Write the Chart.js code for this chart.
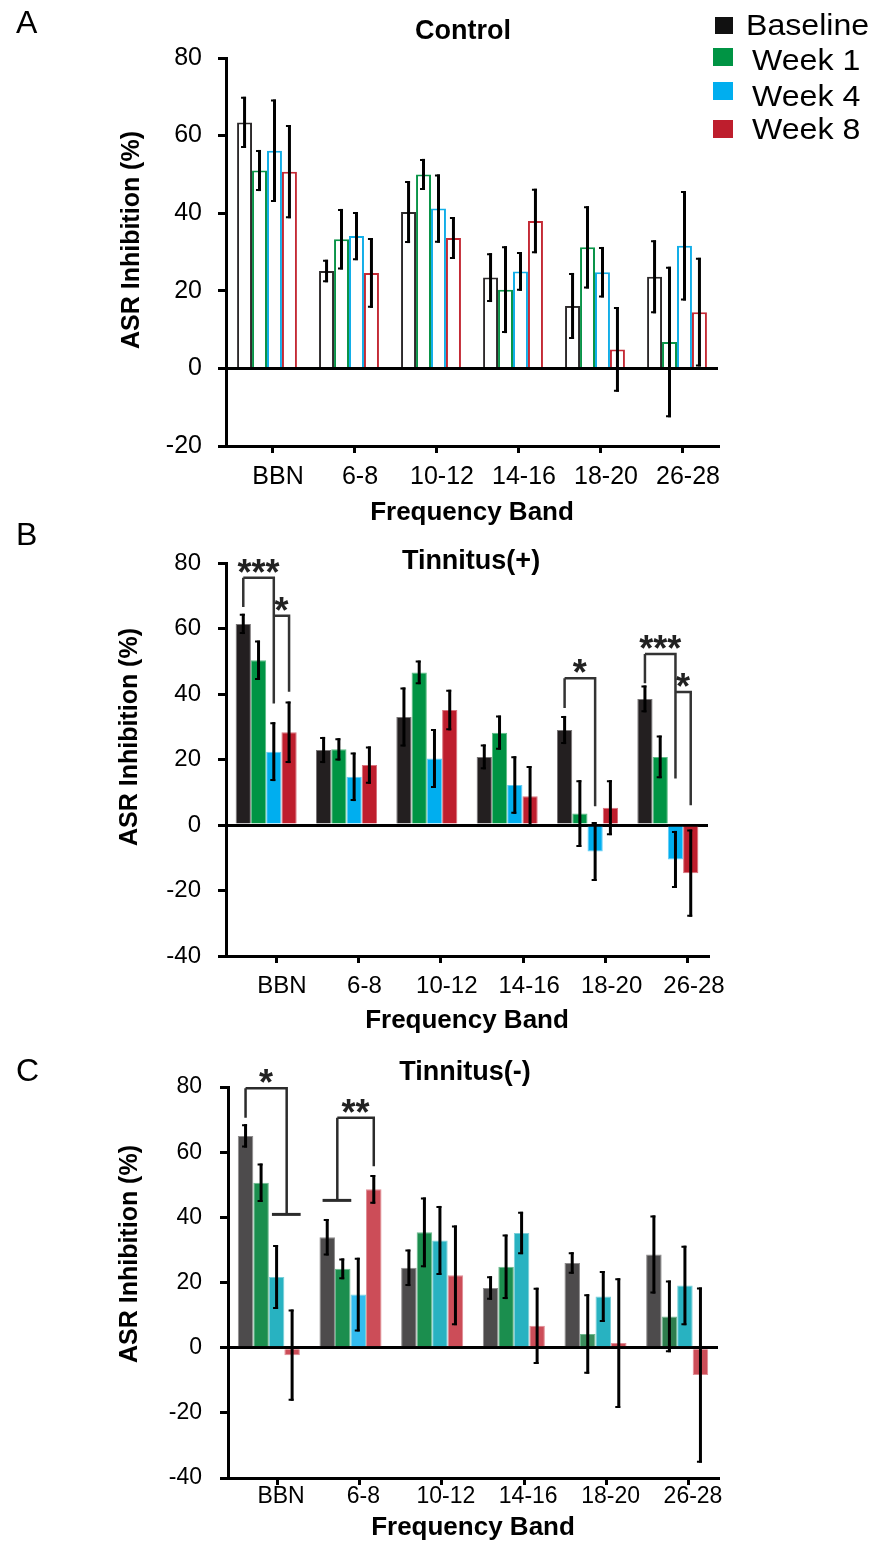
<!DOCTYPE html>
<html>
<head>
<meta charset="utf-8">
<script src="https://cdn.jsdelivr.net/npm/chart.js@4.4.0/dist/chart.umd.min.js"></script>
<style>
  body { margin: 0; background: #fff; font-family: "Liberation Sans", Arial, sans-serif; color: #000; }
  #page { position: relative; width: 875px; height: 1544px; overflow: hidden; }
  canvas { position: absolute; left: 0; }
  .t { position: absolute; line-height: 1; white-space: nowrap; }
  .letter { font-size: 32px; }
  .title { font-size: 27px; font-weight: bold; transform: translateX(-50%); }
  .ytitle { font-size: 25px; font-weight: bold; transform: translate(-50%, -50%) rotate(-90deg); }
  .leg { font-size: 30px; transform: scaleX(1.07); transform-origin: left center; }
  .sw { position: absolute; width: 20px; height: 18px; }
</style>
</head>
<body>
<div id="page">
  <canvas id="chartA" width="875" height="530" style="top:0px"></canvas>
  <canvas id="chartB" width="875" height="510" style="top:530px"></canvas>
  <canvas id="chartC" width="875" height="504" style="top:1040px"></canvas>

  <div class="t letter" style="left:16px;top:6px">A</div>
  <div class="t letter" style="left:16px;top:518px">B</div>
  <div class="t letter" style="left:16px;top:1054px">C</div>

  <div class="t title" style="left:463px;top:17px">Control</div>
  <div class="t title" style="left:471px;top:547px">Tinnitus(+)</div>
  <div class="t title" style="left:465px;top:1058px">Tinnitus(-)</div>

  <div class="t ytitle" style="left:130px;top:240px">ASR Inhibition (%)</div>
  <div class="t ytitle" style="left:128px;top:737px">ASR Inhibition (%)</div>
  <div class="t ytitle" style="left:128px;top:1254px">ASR Inhibition (%)</div>

  <div class="sw" style="left:715px;top:17px;width:18px;height:17px;background:#111"></div>
  <div class="sw" style="left:713px;top:48px;background:#009444"></div>
  <div class="sw" style="left:713px;top:82px;background:#00aeef"></div>
  <div class="sw" style="left:713px;top:120px;background:#be1e2d"></div>
  <div class="t leg" style="left:746px;top:10px">Baseline</div>
  <div class="t leg" style="left:752px;top:45px">Week 1</div>
  <div class="t leg" style="left:752px;top:81px">Week 4</div>
  <div class="t leg" style="left:752px;top:114px">Week 8</div>
</div>

<script>
const bands = ['BBN', '6-8', '10-12', '14-16', '18-20', '26-28'];
const seriesNames = ['Baseline', 'Week 1', 'Week 4', 'Week 8'];

// A - Control
const controlBaseline = [63.4, 25.1, 40.3, 23.4, 16.1, 23.6];
const controlWeek1 = [51.0, 33.3, 50.0, 20.3, 31.2, 6.8];
const controlWeek4 = [56.1, 34.1, 41.2, 25.0, 24.8, 31.6];
const controlWeek8 = [50.7, 24.6, 33.6, 38.0, 4.9, 14.5];
const controlBaselineErr = [6.6, 2.9, 8.0, 6.3, 8.5, 9.4];
const controlWeek1Err = [5.3, 7.8, 4.0, 11.2, 10.6, 19.4];
const controlWeek4Err = [13.2, 6.2, 8.8, 5.0, 6.5, 14.1];
const controlWeek8Err = [12.0, 9.0, 5.4, 8.3, 10.9, 14.0];

// B - Tinnitus(+)
const plusBaseline = [61.4, 22.9, 33.0, 20.8, 29.0, 38.5];
const plusWeek1 = [50.3, 23.1, 46.6, 28.2, 3.5, 20.8];
const plusWeek4 = [22.4, 14.7, 20.3, 12.2, -8.1, -10.5];
const plusWeek8 = [28.3, 18.3, 35.1, 8.8, 5.3, -14.7];
const plusBaselineErr = [3.1, 4.0, 9.0, 3.8, 4.3, 4.1];
const plusWeek1Err = [6.0, 3.4, 3.6, 5.2, 10.2, 6.5];
const plusWeek4Err = [9.0, 7.4, 9.0, 8.8, 9.0, 8.7];
const plusWeek8Err = [9.4, 5.7, 6.2, 9.2, 8.4, 13.3];

// C - Tinnitus(-)
const minusBaseline = [65.0, 33.9, 24.5, 18.3, 26.0, 28.6];
const minusWeek1 = [50.6, 24.2, 35.4, 24.8, 4.2, 9.6];
const minusWeek4 = [21.7, 16.3, 32.9, 35.2, 15.7, 19.1];
const minusWeek8 = [-2.3, 48.6, 22.2, 6.7, 1.4, -8.4];
const minusBaselineErr = [3.6, 5.6, 5.6, 3.6, 3.3, 12.0];
const minusWeek1Err = [5.9, 3.2, 10.7, 9.9, 12.2, 11.0];
const minusWeek4Err = [9.8, 11.3, 10.6, 6.5, 7.8, 12.2];
const minusWeek8Err = [14.0, 4.4, 15.3, 11.7, 19.9, 26.9];

// significance brackets: [band, left bars, right bars, top, left leg end, right leg end, stars]
const plusBrackets = [
  [0, [0], [2], 75.5, 66.6, 37.1, '***'],
  [0, [2], [3], 63.9, null, 40.7, '*'],
  [4, [0], [2], 44.8, 35.7, 5.7, '*'],
  [5, [0], [2], 52.2, 43.3, 14.2, '***'],
  [5, [2], [3], 40.6, null, 6.0, '*']
];
const minusBrackets = [
  [0, [0], [2, 3], 79.6, 70.6, 40.9, '*'],
  [1, [0, 1], [3], 70.6, 45.2, 55.7, '**']
];

Chart.defaults.font.family = '"Liberation Sans", Arial, sans-serif';
Chart.defaults.color = '#000';

const errorBars = {
  id: 'errorBars',
  afterDatasetsDraw(chart) {
    const ctx = chart.ctx;
    const yScale = chart.scales.y;
    ctx.save();
    ctx.strokeStyle = '#000';
    chart.data.datasets.forEach((ds, di) => {
      chart.getDatasetMeta(di).data.forEach((bar, i) => {
        const v = ds.data[i], e = ds.errors[i];
        const top = yScale.getPixelForValue(v + e);
        const bot = yScale.getPixelForValue(v - e);
        const x = bar.x;
        ctx.lineWidth = 3;
        ctx.beginPath();
        ctx.moveTo(x, top);
        ctx.lineTo(x, bot);
        ctx.stroke();
        ctx.lineWidth = 2;
        ctx.beginPath();
        ctx.moveTo(x - 3.5, top + 1); ctx.lineTo(x + 1.5, top + 1);
        ctx.moveTo(x - 3.5, bot - 1); ctx.lineTo(x + 1.5, bot - 1);
        ctx.stroke();
      });
    });
    ctx.restore();
  }
};

function bracketPlugin(list, color) {
  return {
    id: 'brackets',
    afterDatasetsDraw(chart) {
      const ctx = chart.ctx;
      const yScale = chart.scales.y;
      const legX = (band, set) => {
        const bars = set.map(d => chart.getDatasetMeta(d).data[band]);
        const xs = bars.map(b => b.x);
        const w = bars[0].width;
        if (xs.length === 1) return { x: xs[0], a: xs[0], b: xs[0] };
        const mid = xs.reduce((s, v) => s + v, 0) / xs.length;
        return { x: mid + 0.15 * w, a: Math.min(...xs) - 0.3 * w, b: Math.max(...xs) + 0.55 * w };
      };
      ctx.save();
      ctx.strokeStyle = color;
      list.forEach(([band, leftSet, rightSet, topV, leftEnd, rightEnd, stars]) => {
        const L = legX(band, leftSet), R = legX(band, rightSet);
        const yTop = yScale.getPixelForValue(topV);
        ctx.lineWidth = 2.5;
        ctx.beginPath();
        ctx.moveTo(L.x, yTop);
        ctx.lineTo(R.x, yTop);
        ctx.lineTo(R.x, yScale.getPixelForValue(rightEnd));
        if (leftEnd !== null) {
          ctx.moveTo(L.x, yTop);
          ctx.lineTo(L.x, yScale.getPixelForValue(leftEnd));
        }
        ctx.stroke();
        ctx.lineWidth = 3;
        ctx.beginPath();
        if (leftSet.length > 1) {
          const y = yScale.getPixelForValue(leftEnd);
          ctx.moveTo(L.a, y); ctx.lineTo(L.b, y);
        }
        if (rightSet.length > 1) {
          const y = yScale.getPixelForValue(rightEnd);
          ctx.moveTo(R.a, y); ctx.lineTo(R.b, y);
        }
        ctx.stroke();
        // stars
        ctx.fillStyle = '#222';
        ctx.font = 'bold 36px "Liberation Sans", Arial, sans-serif';
        ctx.textAlign = 'center';
        const m = ctx.measureText(stars);
        const yc = yTop - 12;
        ctx.fillText(stars, (L.x + R.x) / 2, yc + (m.actualBoundingBoxAscent - m.actualBoundingBoxDescent) / 2);
      });
      ctx.restore();
    }
  };
}

function makeChart(id, series, errs, look) {
  const datasets = series.map((values, k) => ({
    label: seriesNames[k],
    data: values,
    errors: errs[k],
    backgroundColor: look.fill[k],
    borderColor: look.border[k],
    borderWidth: look.borderWidth
  }));
  const plugins = [errorBars];
  if (look.brackets) plugins.push(bracketPlugin(look.brackets, look.bracketColor));
  return new Chart(document.getElementById(id), {
    type: 'bar',
    data: { labels: bands, datasets: datasets },
    plugins: plugins,
    options: {
      responsive: false,
      animation: false,
      devicePixelRatio: 1,
      layout: { padding: look.padding },
      datasets: { bar: { categoryPercentage: look.catPct, barPercentage: 1 } },
      plugins: { legend: { display: false }, title: { display: false }, tooltip: { enabled: false } },
      scales: {
        x: { display: false },
        // separate axis for the band ticks, which sit a little right of the bar groups
        band: {
          type: 'linear',
          position: 'bottom',
          offset: false,
          bounds: 'data',
          min: look.tickRange[0],
          max: look.tickRange[1],
          afterBuildTicks: s => { s.ticks = bands.map((b, i) => ({ value: i })); },
          ticks: {
            stepSize: 1, includeBounds: false,
            callback: v => bands[v] || '',
            font: { size: look.xFont }, color: '#000', padding: look.xPad,
            labelOffset: look.labelOffset, maxRotation: 0, autoSkip: false
          },
          grid: { drawOnChartArea: false, offset: false, tickLength: 7, lineWidth: 3, color: '#000' },
          border: { color: '#000', width: 3 },
          title: { display: true, text: 'Frequency Band', color: '#000', font: { size: 26, weight: 'bold' }, padding: { top: 0, bottom: 0 } },
          afterFit: s => { s.height = look.xHeight; }
        },
        y: {
          min: look.yMin,
          max: 80,
          ticks: { stepSize: 20, font: { size: look.yFont }, color: '#000', padding: look.yPad },
          border: { color: '#000', width: 3 },
          grid: {
            drawOnChartArea: true,
            color: c => (c.tick && c.tick.value === 0) ? '#000' : 'rgba(0,0,0,0)',
            tickColor: '#000',
            lineWidth: 3,
            tickLength: 8
          },
          afterFit: s => { s.width = look.yWidth; }
        }
      }
    }
  });
}

makeChart('chartA',
  [controlBaseline, controlWeek1, controlWeek4, controlWeek8],
  [controlBaselineErr, controlWeek1Err, controlWeek4Err, controlWeek8Err],
  {
    fill: ['#ffffff', '#ffffff', '#ffffff', '#ffffff'],
    border: ['#2d2a2b', '#0a9448', '#12aee8', '#c42a35'],
    borderWidth: 2,
    padding: { top: 58, left: 0, right: 157, bottom: 2 },
    catPct: 0.73, xFont: 25, xPad: 9, xHeight: 82, labelOffset: 5, tickRange: [-0.573, 5.427],
    yFont: 25, yPad: 16, yWidth: 226, yMin: -20
  });

makeChart('chartB',
  [plusBaseline, plusWeek1, plusWeek4, plusWeek8],
  [plusBaselineErr, plusWeek1Err, plusWeek4Err, plusWeek8Err],
  {
    fill: ['#231f20', '#009444', '#00aeef', '#be1e2d'],
    border: ['#7a7778', '#5cbd85', '#66cdf4', '#d9727c'],
    borderWidth: 1,
    padding: { top: 33, left: 0, right: 167, bottom: 4 },
    catPct: 0.76, xFont: 24, xPad: 9, xHeight: 80, labelOffset: 6, tickRange: [-0.607, 5.243],
    yFont: 24, yPad: 17, yWidth: 226, yMin: -40,
    brackets: plusBrackets, bracketColor: '#333'
  });

makeChart('chartC',
  [minusBaseline, minusWeek1, minusWeek4, minusWeek8],
  [minusBaselineErr, minusWeek1Err, minusWeek4Err, minusWeek8Err],
  {
    fill: ['#4d4b4c',
           ['#1b8e4e', '#1b8e4e', '#1b8e4e', '#1b8e4e', '#3b8c5c', '#2e7d4d'],
           ['#28b2c1', '#33bcf0', '#28b2c1', '#28b2c1', '#28b2c1', '#28b2c1'],
           '#cc4d58'],
    border: ['#8e8c8d', '#6cb98e', '#7ad0da', '#e08d95'],
    borderWidth: 1,
    padding: { top: 47, left: 0, right: 157, bottom: 1 },
    catPct: 0.76, xFont: 23, xPad: -2, xHeight: 65, labelOffset: 4, tickRange: [-0.595, 5.352],
    yFont: 23, yPad: 18, yWidth: 228, yMin: -40,
    brackets: minusBrackets, bracketColor: '#2b2b2b'
  });
</script>
</body>
</html>
